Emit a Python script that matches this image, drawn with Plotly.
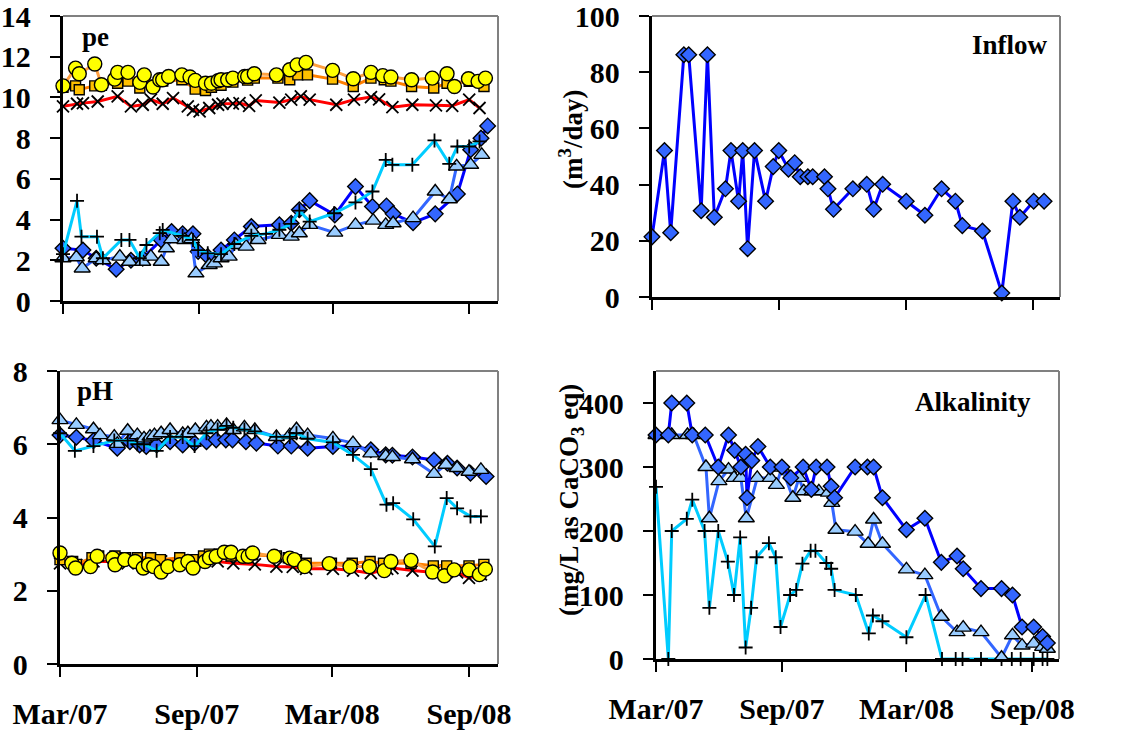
import pandas as pd
import plotly.graph_objects as go

# ---------------- data (sampling day = days after 2007-03-01) ----------------
START = pd.Timestamp("2007-03-01")

# pe panel
pe_dia_day = [0, 27, 45, 72, 92, 108, 133, 147, 162, 176, 183, 196, 214, 232, 255, 293, 309, 320, 334, 368, 396, 419, 438, 447, 474, 504, 534, 552, 566, 575]
pe_dia = [2.59, 2.5, 2.1, 1.56, 2.0, 2.1, 3.0, 3.41, 3.3, 3.3, 2.43, 2.18, 2.5, 3.0, 3.66, 3.74, 3.82, 4.48, 4.93, 4.23, 5.62, 4.64, 4.67, 4.28, 3.85, 4.28, 5.26, 7.43, 8.0, 8.6]
pe_tri_day = [0, 18, 26, 45, 54, 77, 90, 108, 119, 133, 140, 147, 165, 174, 180, 198, 205, 214, 225, 234, 248, 255, 264, 293, 309, 320, 334, 368, 396, 420, 437, 447, 474, 504, 523, 533, 552, 567]
pe_tri = [2.1, 2.15, 1.6, 2.1, 2.0, 2.18, 1.93, 1.93, 2.18, 1.93, 2.59, 3.03, 3.0, 3.03, 1.36, 1.77, 1.85, 2.1, 2.18, 2.75, 2.67, 3.49, 3.0, 3.25, 3.16, 3.33, 3.74, 3.36, 3.74, 3.95, 3.74, 3.82, 4.07, 5.38, 5.0, 6.61, 6.69, 7.18]
pe_plus_day = [0, 19, 25, 46, 54, 79, 90, 104, 113, 131, 135, 162, 176, 183, 196, 214, 232, 255, 275, 293, 309, 320, 334, 367, 396, 419, 437, 446, 473, 503, 523, 534, 550, 564]
pe_plus = [2.3, 4.92, 3.16, 3.16, 2.1, 3.0, 3.0, 2.1, 2.75, 3.33, 3.49, 3.2, 3.0, 2.5, 2.34, 2.3, 2.8, 3.2, 3.3, 3.5, 3.79, 4.44, 3.9, 4.31, 4.84, 5.38, 6.93, 6.69, 6.69, 7.89, 6.74, 7.59, 7.59, 7.84]
pe_x_day = [0, 19, 27, 47, 74, 92, 108, 119, 135, 149, 169, 176, 185, 198, 210, 216, 230, 239, 252, 261, 293, 309, 322, 334, 370, 394, 417, 428, 446, 473, 505, 527, 550, 564]
pe_x = [9.56, 9.69, 9.72, 9.8, 10.05, 9.56, 9.64, 9.89, 9.69, 9.97, 9.56, 9.39, 9.31, 9.48, 9.64, 9.69, 9.7, 9.72, 9.59, 9.85, 9.75, 9.89, 10.05, 9.89, 9.64, 9.89, 10.02, 9.9, 9.52, 9.64, 9.61, 9.59, 9.89, 9.48]
pe_sq_day = [0, 17, 22, 43, 52, 74, 88, 104, 122, 135, 161, 179, 193, 201, 214, 230, 250, 259, 291, 307, 318, 331, 365, 393, 417, 435, 444, 472, 502, 520, 550, 570]
pe_sq = [10.5, 10.57, 10.38, 10.57, 10.6, 10.7, 10.8, 10.46, 10.6, 10.8, 10.87, 10.41, 10.34, 10.5, 10.6, 10.75, 10.85, 10.95, 10.95, 10.87, 11.11, 11.11, 10.9, 10.54, 10.95, 10.87, 10.8, 10.54, 10.46, 10.7, 10.79, 10.54]
pe_circ_day = [0, 17, 22, 43, 52, 70, 74, 88, 104, 110, 122, 131, 135, 143, 161, 172, 179, 193, 201, 210, 214, 223, 230, 246, 250, 259, 289, 307, 317, 329, 365, 393, 417, 433, 444, 472, 500, 520, 530, 549, 562, 572]
pe_circ = [10.57, 11.44, 11.16, 11.64, 10.62, 10.9, 11.23, 11.23, 10.74, 11.11, 10.51, 10.87, 10.87, 11.03, 11.11, 11.0, 10.84, 10.7, 10.7, 10.82, 10.87, 10.87, 10.95, 11.03, 11.03, 11.16, 11.11, 11.36, 11.6, 11.72, 11.33, 10.92, 11.23, 11.07, 11.0, 10.87, 10.95, 11.16, 10.54, 10.92, 10.79, 10.95]

# pH panel
ph_tri_day = [0, 22, 45, 54, 73, 77, 91, 104, 113, 121, 127, 136, 148, 165, 172, 182, 197, 203, 212, 224, 233, 248, 262, 291, 309, 318, 333, 367, 394, 418, 438, 447, 474, 503, 519, 534, 550, 566]
ph_tri = [6.66, 6.53, 6.41, 6.25, 6.21, 6.01, 6.37, 6.25, 6.16, 6.21, 6.25, 6.3, 6.39, 6.28, 6.3, 6.39, 6.46, 6.48, 6.48, 6.53, 6.39, 6.46, 6.39, 6.2, 6.25, 6.41, 6.25, 6.16, 6.03, 5.75, 5.68, 5.65, 5.59, 5.19, 5.44, 5.35, 5.25, 5.3]
ph_dia_day = [0, 22, 45, 77, 94, 107, 116, 130, 148, 165, 181, 197, 210, 223, 232, 250, 264, 293, 311, 333, 367, 394, 418, 438, 447, 474, 503, 521, 534, 552, 573]
ph_dia = [6.25, 6.19, 6.1, 5.89, 6.07, 5.98, 5.94, 5.98, 6.07, 5.98, 6.03, 6.07, 6.12, 6.12, 6.12, 6.07, 6.03, 5.95, 5.95, 5.89, 5.94, 5.95, 5.85, 5.71, 5.7, 5.65, 5.57, 5.48, 5.35, 5.21, 5.12]
ph_plus_day = [0, 20, 45, 73, 91, 104, 113, 130, 148, 165, 181, 197, 212, 224, 233, 248, 262, 291, 309, 318, 333, 367, 394, 418, 439, 448, 475, 504, 520, 534, 552, 566]
ph_plus = [6.3, 5.82, 5.95, 6.1, 6.1, 6.0, 6.0, 5.82, 6.2, 6.2, 5.95, 6.3, 6.4, 6.5, 6.45, 6.4, 6.35, 6.2, 6.2, 6.3, 6.15, 6.05, 5.71, 5.32, 4.35, 4.39, 3.95, 3.21, 4.53, 4.25, 4.03, 4.03]
ph_x_day = [0, 22, 45, 73, 91, 113, 136, 165, 182, 212, 233, 262, 291, 313, 331, 367, 394, 418, 440, 447, 474, 503, 519, 534, 550, 566]
ph_x = [2.75, 2.7, 2.8, 2.8, 2.75, 2.75, 2.8, 2.8, 2.8, 2.8, 2.75, 2.72, 2.66, 2.65, 2.6, 2.6, 2.55, 2.48, 2.6, 2.62, 2.55, 2.5, 2.55, 2.5, 2.35, 2.45]
ph_sq_day = [0, 17, 22, 43, 52, 74, 88, 104, 122, 135, 161, 179, 193, 201, 214, 230, 250, 259, 291, 307, 318, 331, 365, 393, 417, 435, 444, 472, 502, 520, 550, 570]
ph_sq = [2.85, 2.8, 2.72, 2.9, 2.95, 2.95, 2.9, 2.9, 2.9, 2.85, 2.9, 2.85, 2.95, 3.0, 3.0, 2.95, 2.95, 2.98, 2.95, 2.9, 2.85, 2.75, 2.75, 2.75, 2.8, 2.75, 2.75, 2.75, 2.68, 2.68, 2.68, 2.72]
ph_circ_day = [0, 16, 21, 41, 50, 71, 74, 87, 101, 112, 119, 126, 136, 145, 161, 172, 179, 195, 201, 210, 221, 230, 246, 253, 259, 288, 309, 315, 329, 362, 390, 416, 436, 445, 472, 501, 517, 530, 550, 564, 572]
ph_circ = [3.03, 2.75, 2.62, 2.66, 2.94, 2.89, 2.71, 2.85, 2.8, 2.62, 2.71, 2.66, 2.51, 2.66, 2.71, 2.8, 2.62, 2.8, 2.9, 2.94, 3.05, 3.05, 2.94, 2.94, 3.03, 2.94, 2.89, 2.85, 2.66, 2.74, 2.66, 2.66, 2.55, 2.8, 2.83, 2.51, 2.41, 2.57, 2.57, 2.44, 2.59]

# Inflow panel
inflow_day = [0, 18, 27, 46, 53, 71, 80, 90, 106, 114, 125, 131, 138, 148, 164, 175, 183, 197, 206, 214, 225, 232, 249, 254, 262, 290, 310, 320, 333, 367, 394, 418, 438, 448, 477, 505, 521, 531, 551, 566]
inflow = [21.4, 52.1, 22.9, 86.2, 86.2, 30.7, 86.2, 28.4, 38.5, 52.1, 34.1, 52.1, 17.2, 52.1, 34.1, 46.4, 52.1, 45.5, 47.8, 42.8, 42.8, 42.8, 42.8, 38.5, 31.2, 38.5, 40.1, 31.2, 40.1, 34.1, 29.1, 38.5, 34.1, 25.4, 23.5, 1.4, 34.1, 28.4, 34.1, 34.1]

# Alkalinity panel
alk_dia_day = [0, 18, 23, 45, 53, 72, 91, 106, 115, 124, 131, 133, 140, 149, 167, 184, 197, 215, 227, 234, 250, 256, 261, 291, 309, 318, 331, 366, 393, 417, 440, 449, 475, 505, 521, 535, 552, 565, 572]
alk_dia = [350, 350, 400, 400, 350, 350, 300, 350, 326, 300, 320, 252, 310, 332, 300, 300, 283, 300, 265, 300, 300, 270, 252, 300, 300, 300, 252, 202, 220, 151, 161, 141, 110, 110, 100, 50, 50, 35, 25]
alk_tri_day = [0, 23, 46, 55, 73, 78, 92, 106, 114, 124, 132, 148, 167, 176, 184, 200, 209, 216, 228, 238, 252, 257, 263, 291, 310, 318, 331, 366, 393, 417, 440, 449, 475, 505, 521, 535, 552, 565, 572]
alk_tri = [350, 350, 350, 350, 300, 220, 278, 296, 283, 283, 220, 283, 283, 272, 299, 252, 283, 262, 262, 262, 260, 244, 202, 199, 180, 218, 180, 140, 131, 66, 42, 49, 42, 2, 37, 21, 24, 19, 16]
alk_plus_day = [0, 18, 23, 45, 53, 71, 78, 91, 105, 114, 123, 131, 139, 147, 165, 175, 182, 196, 205, 214, 226, 233, 249, 256, 261, 292, 311, 317, 331, 366, 394, 418, 438, 448, 475, 505, 520, 533, 552, 565, 572]
alk_plus = [269, 0, 200, 219, 249, 200, 80, 200, 152, 100, 190, 18, 80, 159, 181, 159, 50, 100, 108, 149, 169, 169, 150, 141, 108, 100, 40, 68, 59, 34, 100, 0, 0, 0, 0, 0, 0, 0, 0, 0, 0]

x_tick_vals = ["2007-03-01", "2007-09-01", "2008-03-01", "2008-09-01"]
x_tick_text = ["Mar/07", "Sep/07", "Mar/08", "Sep/08"]
x_range = ["2007-03-01", "2008-10-10"]


def to_dates(days):
    return [START + pd.Timedelta(days=d) for d in days]


FONT = "Liberation Serif, Times New Roman, serif"

STY = {
    "dia": dict(marker=dict(symbol="diamond", size=12, color="#3366FF", line=dict(color="black", width=1.4)),
                line=dict(color="#0000FF", width=3)),
    "tri": dict(marker=dict(symbol="triangle-up", size=14, color="#99CCFF", line=dict(color="black", width=1.4)),
                line=dict(color="#3366FF", width=3)),
    "plus": dict(marker=dict(symbol="cross-thin", size=10, color="black", line=dict(color="black", width=1.8)),
                 line=dict(color="#00CCFF", width=3)),
    "x": dict(marker=dict(symbol="x-thin", size=12, color="black", line=dict(color="black", width=1.8)),
              line=dict(color="#FF0000", width=3)),
    "sq": dict(marker=dict(symbol="square", size=10, color="#FFC000", line=dict(color="black", width=1.4)),
               line=dict(color="#FF7F00", width=3)),
    "circ": dict(marker=dict(symbol="circle", size=14, color="#FFFF00", line=dict(color="black", width=1.4)),
                 line=dict(color="#FFA040", width=3)),
}

fig = go.Figure()


def add(ax, days, vals, sty):
    s = STY[sty]
    fig.add_trace(go.Scatter(
        x=to_dates(days), y=vals, mode="lines+markers",
        xaxis="x" + ax, yaxis="y" + ax, cliponaxis=False,
        marker=s["marker"], line=s["line"], showlegend=False, hoverinfo="x+y"))


# pe (axis "")
add("", pe_x_day, pe_x, "x")
add("", pe_sq_day, pe_sq, "sq")
add("", pe_circ_day, pe_circ, "circ")
add("", pe_dia_day, pe_dia, "dia")
add("", pe_tri_day, pe_tri, "tri")
add("", pe_plus_day, pe_plus, "plus")
# inflow
add("2", inflow_day, inflow, "dia")
# pH
add("3", ph_x_day, ph_x, "x")
add("3", ph_sq_day, ph_sq, "sq")
add("3", ph_circ_day, ph_circ, "circ")
add("3", ph_dia_day, ph_dia, "dia")
add("3", ph_tri_day, ph_tri, "tri")
add("3", ph_plus_day, ph_plus, "plus")
# alkalinity
add("4", alk_plus_day, alk_plus, "plus")
add("4", alk_tri_day, alk_tri, "tri")
add("4", alk_dia_day, alk_dia, "dia")

W, H = 1128, 732


def dom_x(a, b):
    return [a / W, b / W]


def dom_y(top, bottom):
    return [1 - bottom / H, 1 - top / H]


tickfont = dict(family=FONT, size=30, color="black", weight="bold")


def xax(domain, anchor, labels):
    return dict(domain=domain, anchor=anchor, type="date", range=x_range, automargin=False,
                tickmode="array", tickvals=x_tick_vals, ticktext=x_tick_text,
                showticklabels=labels, ticks="outside", ticklen=10, tickwidth=2, tickcolor="black",
                showline=True, linecolor="black", linewidth=2.5, showgrid=False, zeroline=False,
                tickfont=tickfont, ticklabelstandoff=11, ticklabeloverflow="allow")


def yax(domain, anchor, rng, dt):
    return dict(domain=domain, anchor=anchor, range=rng, dtick=dt, tick0=0, automargin=False,
                ticks="outside", ticklen=10, tickwidth=2, tickcolor="black",
                showline=True, linecolor="black", linewidth=2.5, showgrid=False, zeroline=False,
                tickfont=tickfont, ticksuffix="\u00a0\u2009", ticklabeloverflow="allow")


layout = dict(
    template="none",
    width=W, height=H, margin=dict(l=0, r=0, t=0, b=0, autoexpand=False),
    paper_bgcolor="white", plot_bgcolor="white",
    xaxis=xax(dom_x(63, 498), "y", False),
    yaxis=yax(dom_y(16, 301), "x", [0, 14], 2),
    xaxis2=xax(dom_x(652, 1060), "y2", False),
    yaxis2=yax(dom_y(16, 297), "x2", [0, 100], 20),
    xaxis3=xax(dom_x(60, 498), "y3", True),
    yaxis3=yax(dom_y(371, 664), "x3", [0, 8], 2),
    xaxis4=xax(dom_x(656, 1059), "y4", True),
    yaxis4=yax(dom_y(371, 659), "x4", [0, 450], 100),
)
fig.update_layout(**layout)

# gray top/right frame lines
shapes = []
for ax in ["", "2", "3", "4"]:
    xr, yr = "x" + ax + " domain", "y" + ax + " domain"
    shapes.append(dict(type="line", xref=xr, yref=yr, x0=0, x1=1, y0=1, y1=1,
                       line=dict(color="#808080", width=2), layer="below"))
    shapes.append(dict(type="line", xref=xr, yref=yr, x0=1, x1=1, y0=0, y1=1,
                       line=dict(color="#808080", width=2), layer="below"))
fig.update_layout(shapes=shapes)

lab = dict(family=FONT, size=27, color="black", weight="bold")
ann = [
    dict(text="pe", x=80 / W, y=1 - 37 / H, xanchor="left", yanchor="middle"),
    dict(text="pH", x=75 / W, y=1 - 391 / H, xanchor="left", yanchor="middle"),
    dict(text="Inflow", x=1050 / W, y=1 - 45 / H, xanchor="right", yanchor="middle"),
    dict(text="Alkalinity", x=1033 / W, y=1 - 402 / H, xanchor="right", yanchor="middle"),
    dict(text="(m<sup>3</sup>/day)", x=571 / W, y=1 - 140 / H, xanchor="center", yanchor="middle",
         textangle=-90),
    dict(text="(mg/L as CaCO<sub>3</sub> eq)", x=571 / W, y=1 - 500 / H, xanchor="center",
         yanchor="middle", textangle=-90),
]
for a in ann:
    a.update(xref="paper", yref="paper", showarrow=False, font=lab)
fig.update_layout(annotations=ann)

fig.write_html("out.html", config={"displayModeBar": False},
               post_script="document.body.style.margin='0px';document.body.style.padding='0px';")
